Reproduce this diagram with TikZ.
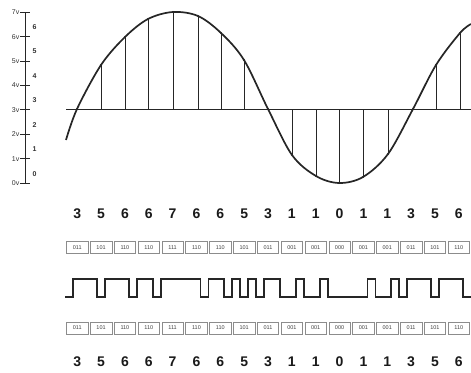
\documentclass[tikz,border=0pt]{standalone}
\usepackage{fontspec}
\setmainfont{Liberation Sans}
\begin{document}
\begin{tikzpicture}[x=1pt,y=-1pt,
  ink/.style={draw=black!85},
  wave/.style={ink,line width=1.7pt},
  thinline/.style={ink,line width=0.7pt},
  codebox/.style={draw=black!45,line width=0.6pt,minimum width=21.5pt,minimum height=12pt,inner sep=0pt,font=\fontsize{5.5}{5.5}\selectfont,text=black!75},
  digit/.style={font=\fontsize{14}{14}\selectfont\bfseries,inner sep=0pt,text=black!90},
  vlab/.style={font=\fontsize{7}{7}\selectfont,inner sep=0pt,anchor=east,text=black!80},
  lvl/.style={font=\fontsize{7}{7}\selectfont\bfseries,inner sep=0pt,text=black!80}]
\useasboundingbox (0,0) rectangle (471,372);
% voltage axis
\draw[thinline] (25,12.2) coordinate (atop) -- (25,183) coordinate (abot);
\foreach \v in {0,...,7}{
  \draw[thinline] (20,{183-24.4*\v}) -- (30,{183-24.4*\v});
  \node[vlab] (v\v) at (19.5,{183-24.4*\v}) {\v v};
}
\foreach \n in {0,...,6}
  \node[lvl] (l\n) at (34.5,{174-24.5*\n}) {\n};
% baseline
\draw[thinline] (66,109) coordinate (bl) -- (471,109) coordinate (br);
% sample lines and points
\foreach \x/\y [count=\i from 0] in {77/109,101/65,125/37,148/19,173/12,198/16,221/33,244/60,268/109,292/155,316/176,339/183,363/177,388/154,413/109,436/65,460/33}{
  \draw[thinline] (\x,109) coordinate (s\i) -- (\x,\y) coordinate (p\i);
  \fill[black!85] (p\i) circle (1.1pt);
}
% analogue signal
\draw[wave] plot[smooth,tension=0.55] coordinates {(66,140) (77,109) (101,65) (125,37) (148,19) (173,12) (198,16) (221,33) (244,60) (268,109) (292,155) (316,176) (339,183) (363,177) (388,154) (413,109) (436,65) (460,33) (471,24)};
% digits and code boxes
\foreach \d/\c [count=\i from 0] in {3/011,5/101,6/110,6/110,7/111,6/110,6/110,5/101,3/011,1/001,1/001,0/000,1/001,1/001,3/011,5/101,6/110}{
  \node[digit] (dt\i) at ({77.2+23.85*\i},214) {\d};
  \node[codebox] (t\i) at ({77.2+23.85*\i},247.5) {\c};
  \node[codebox] (b\i) at ({77.2+23.85*\i},328) {\c};
  \node[digit] (db\i) at ({77.2+23.85*\i},362) {\d};
}
% serial pulse train (NRZ of the code bits)
\draw[wave,line join=miter] (65.3,297)
  -| (73.25,279) -| (97.1,297) -| (105.05,279) -| (128.9,297)
  -| (136.85,279) -| (152.75,297) -| (160.7,279) -| (200.45,297)
  -| (208.4,279) -| (224.3,297) -| (232.25,279) -| (240.2,297)
  -| (248.15,279) -| (256.1,297) -| (264.05,279) -| (279.95,297)
  -| (295.85,279) -| (303.8,297) -| (319.7,279) -| (327.65,297)
  -| (367.4,279) -| (375.35,297) -| (391.25,279) -| (399.2,297)
  -| (407.15,279) -| (431.0,297) -| (438.95,279) -| (462.8,297)
  -- (471,297);
\end{tikzpicture}
\end{document}
